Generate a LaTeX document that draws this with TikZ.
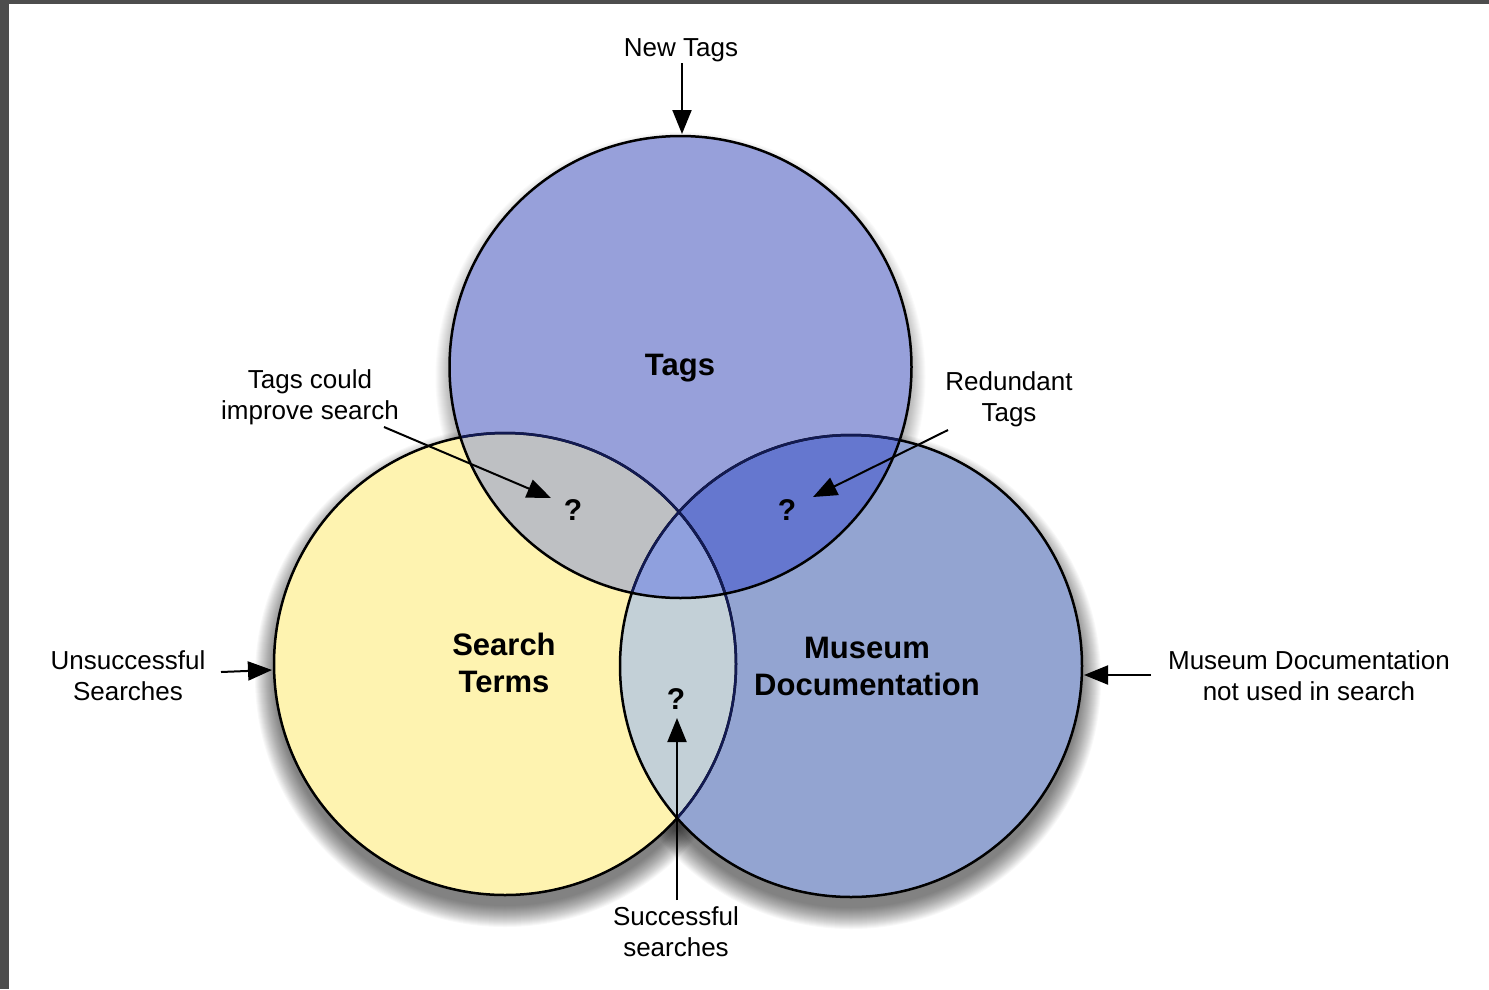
\documentclass[tikz,border=0pt]{standalone}
\usepackage{fontspec}
\setmainfont{Liberation Sans}
\usetikzlibrary{arrows.meta}
\definecolor{frame}{HTML}{4D4D4D}
\definecolor{yel}{HTML}{FEF3B0}
\definecolor{tagc}{HTML}{97A0DA}
\definecolor{musc}{HTML}{93A4D1}
\definecolor{tsc}{HTML}{BEC0C3}
\definecolor{tmc}{HTML}{6577CF}
\definecolor{smc}{HTML}{C3D0D7}
\definecolor{allc}{HTML}{8FA0DE}
\definecolor{navy}{HTML}{121A52}
\tikzset{
  lbl/.style={font=\fontsize{26}{31}\selectfont, align=center, inner sep=0pt},
  big/.style={font=\fontsize{31}{37}\selectfont\bfseries, align=center, inner sep=0pt},
  qm/.style={font=\fontsize{30}{34}\selectfont\bfseries, inner sep=0pt},
  arr/.style={line width=2pt, -{Triangle[length=24pt,width=19pt]}},
  rim/.style={line width=2.5pt}
}
\newcommand{\CS}{(505,664) circle [radius=231pt]}
\newcommand{\CT}{(680.5,367) circle [radius=231pt]}
\newcommand{\CM}{(851,666) circle [radius=231pt]}
\begin{document}
\begin{tikzpicture}[x=1pt,y=-1pt]
\useasboundingbox (0,0) rectangle (1489,989);
\fill[frame] (0,0) rectangle (1489,989);
\fill[white] (9,4) rectangle (1489,989);
% shadows
\foreach \i in {0,...,21}{
  \fill[black, opacity=0.028] (505,677) circle [radius={250pt-\i pt}];
  \fill[black, opacity=0.028] (851,679) circle [radius={250pt-\i pt}];
  \fill[black, opacity=0.02] (680.5,377) circle [radius={245pt-\i pt}];
}
% fills
\fill[yel] \CS;
\fill[musc] \CM;
\fill[tagc] \CT;
\begin{scope}\clip \CS; \fill[tsc] \CT; \end{scope}
\begin{scope}\clip \CM; \fill[tmc] \CT; \end{scope}
\begin{scope}\clip \CS; \fill[smc] \CM; \end{scope}
\begin{scope}\clip \CS; \clip \CM; \fill[allc] \CT; \end{scope}
% outlines
\draw[rim] \CS;
\begin{scope}\clip \CM; \draw[rim, navy] \CS; \end{scope}
\begin{scope}\clip \CT; \draw[rim, navy] \CS; \end{scope}
\draw[rim] \CM;
\begin{scope}\clip \CT; \draw[rim, navy] \CM; \end{scope}
\draw[rim] \CT;
% circle labels
\node[big] (tags) at (680,368) {Tags};
\node[big] (search) at (504,663) {Search\\Terms};
\node[big] (museum) at (867,666) {Museum\\Documentation};
\node[qm] (q1) at (573,510) {?};
\node[qm] (q2) at (787,510) {?};
\node[qm] (q3) at (676,699) {?};
% outer labels
\node[lbl] (newtags) at (681,50) {New Tags};
\node[lbl] (could) at (310,397) {Tags could\\improve search};
\node[lbl] (redund) at (1009,399) {Redundant\\Tags};
\node[lbl] (unsucc) at (128,676) {Unsuccessful\\Searches};
\node[lbl] (notused) at (1309,676) {Museum Documentation\\not used in search};
\node[lbl] (succ) at (676,932) {Successful\\searches};
% arrow end points
\coordinate (a1s) at (682,63);   \coordinate (a1e) at (682,134);
\coordinate (a2s) at (384,427);  \coordinate (a2e) at (551,498);
\coordinate (a3s) at (948,430);  \coordinate (a3e) at (813,497);
\coordinate (a4s) at (221,672);  \coordinate (a4e) at (272,670);
\coordinate (a5s) at (1151,675); \coordinate (a5e) at (1084,675);
\coordinate (a6s) at (677,900);  \coordinate (a6e) at (677,718);
\draw[arr] (a1s) -- (a1e);
\draw[arr] (a2s) -- (a2e);
\draw[arr] (a3s) -- (a3e);
\draw[arr] (a4s) -- (a4e);
\draw[arr] (a5s) -- (a5e);
\draw[arr] (a6s) -- (a6e);
\end{tikzpicture}
\end{document}
